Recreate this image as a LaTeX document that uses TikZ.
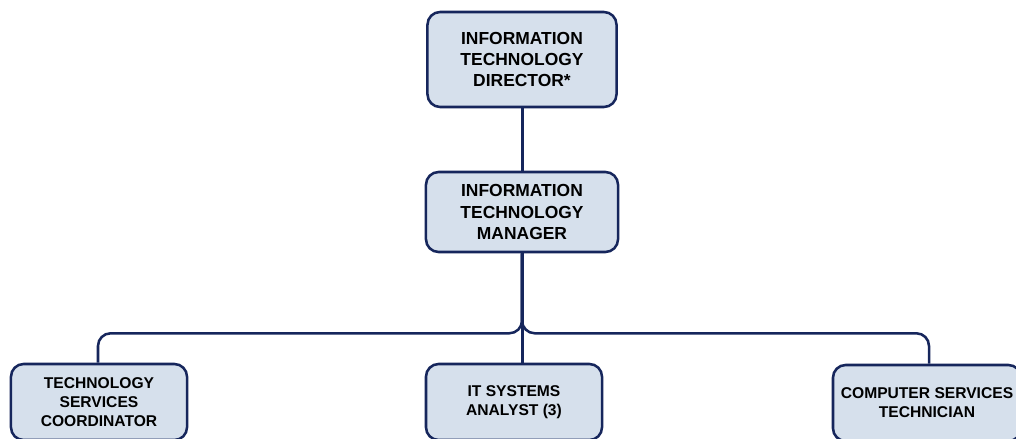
\documentclass[tikz,border=0pt]{standalone}
\usepackage{fontspec}
\setmainfont{Liberation Sans}
\definecolor{boxfill}{RGB}{214,224,236}
\definecolor{boxline}{RGB}{22,38,92}
\begin{document}
\begin{tikzpicture}[
  x=0.025cm, y=-0.025cm,
  role/.style={rectangle, rounded corners=9pt, draw=boxline, fill=boxfill, line width=1.8pt,
    align=center, inner sep=2pt, font=\fontsize{12.4}{15}\selectfont\bfseries},
  staff/.style={role, font=\fontsize{11.1}{13.6}\selectfont\bfseries},
  link/.style={draw=boxline, line width=1.8pt, rounded corners=9pt},
]

% Visible area
\clip (0,0) rectangle (1016,439);

% Management
\node[role, minimum width=4.725cm, minimum height=2.375cm] (dir) at (522, 59.5) {INFORMATION\\TECHNOLOGY\\DIRECTOR*};
\node[role, minimum width=4.8cm, minimum height=2.0cm] (mgr) at (522, 212) {INFORMATION\\TECHNOLOGY\\MANAGER};

% Staff
\node[staff, minimum width=4.4cm, minimum height=1.9cm] (tsc) at (99, 402) {TECHNOLOGY\\SERVICES\\COORDINATOR};
\node[staff, minimum width=4.4cm, minimum height=1.9cm] (its) at (514, 402) {IT SYSTEMS\\ANALYST (3)};
\node[staff, minimum width=4.7cm, minimum height=1.9cm] (cst) at (927, 403) {COMPUTER SERVICES\\TECHNICIAN};

% Reporting lines
\draw[link] ([xshift=0.0125cm]dir.south) -- ([xshift=0.0125cm]mgr.north);
\draw[link] (mgr.south) -- ++(0,80) -| ([xshift=-0.025cm]tsc.north);
\draw[link] (mgr.south) -- ++(0,80) -| ([xshift=0.05cm]cst.north);
\draw[link] ([xshift=0.0125cm]mgr.south) -- ([xshift=0.0125cm]mgr.south |- its.north);
\end{tikzpicture}
\end{document}
